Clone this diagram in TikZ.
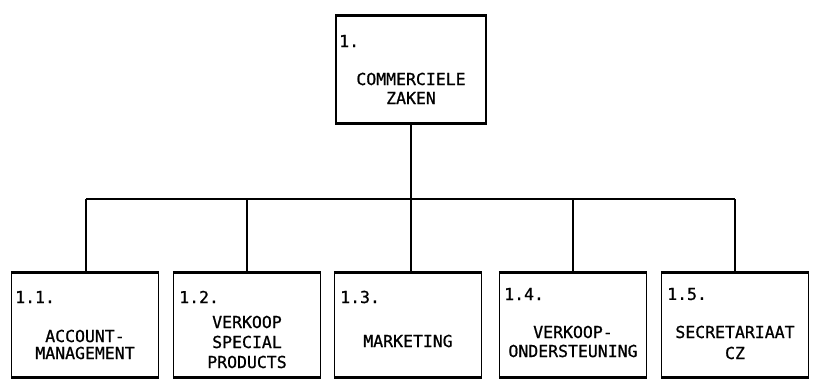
\documentclass[tikz,border=0pt]{standalone}
\usepackage{fontspec}
\newfontfamily\orgmono[FakeBold=0.9]{DejaVu Sans Mono}
\begin{document}
\begin{tikzpicture}[x=1pt,y=-1pt,
  unit/.style={draw, rectangle, line width=1.1pt, inner sep=0pt,
    minimum width=147pt, minimum height=104pt},
  edge/.style={line width=2.2pt},
  link/.style={line width=1.2pt},
  bus/.style={line width=2pt},
  txt/.style={font=\orgmono\fontsize{16.5}{19}\selectfont, inner sep=0pt, anchor=center},
  num/.style={font=\orgmono\fontsize{16.5}{19}\selectfont, inner sep=0pt, anchor=west}]
\useasboundingbox (0,0) rectangle (813,383);

% boxes
\node[unit, minimum width=150pt, minimum height=107pt] (cz) at (411,69.5) {};
\node[unit] (am) at (85,325) {};
\node[unit] (vs) at (247,325) {};
\node[unit] (mk) at (408,325) {};
\node[unit] (vo) at (573,325) {};
\node[unit] (sc) at (735,325) {};

% heavier top and bottom edges
\foreach \b in {cz,am,vs,mk,vo,sc}{
  \draw[edge] (\b.north west) -- (\b.north east);
  \draw[edge] (\b.south west) -- (\b.south east);
}

% connectors
\coordinate (busL) at (86,199);
\coordinate (busR) at (735,199);
\draw[bus] (busL) -- (busR);
\draw[link] (cz.south) -- (cz.south |- busL);
\draw[link] (busL) -- (busL |- am.north);
\draw[link] (vs.north |- busL) -- (vs.north);
\draw[link] (cz.south |- busL) -- (cz.south |- mk.north);
\draw[link] (vo.north |- busL) -- (vo.north);
\draw[link] (busR) -- (busR |- sc.north);

% texts
\node[num] (czn) at (339,41) {1.};
\node[txt] (czt1) at (411,79) {COMMERCIELE};
\node[txt] (czt2) at (411,98) {ZAKEN};

\node[num] (amn) at (15,297) {1.1.};
\node[txt] (amt1) at (85,336) {ACCOUNT-};
\node[txt] (amt2) at (85,353) {MANAGEMENT};

\node[num] (vsn) at (179,297) {1.2.};
\node[txt] (vst1) at (247,322) {VERKOOP};
\node[txt] (vst2) at (247,342) {SPECIAL};
\node[txt] (vst3) at (247,362) {PRODUCTS};

\node[num] (mkn) at (340,297) {1.3.};
\node[txt] (mkt1) at (408,341) {MARKETING};

\node[num] (von) at (504,294) {1.4.};
\node[txt] (vot1) at (573,332) {VERKOOP-};
\node[txt] (vot2) at (573,351) {ONDERSTEUNING};

\node[num] (scn) at (667,294) {1.5.};
\node[txt] (sct1) at (735,332) {SECRETARIAAT};
\node[txt] (sct2) at (735,353) {CZ};
\end{tikzpicture}
\end{document}
